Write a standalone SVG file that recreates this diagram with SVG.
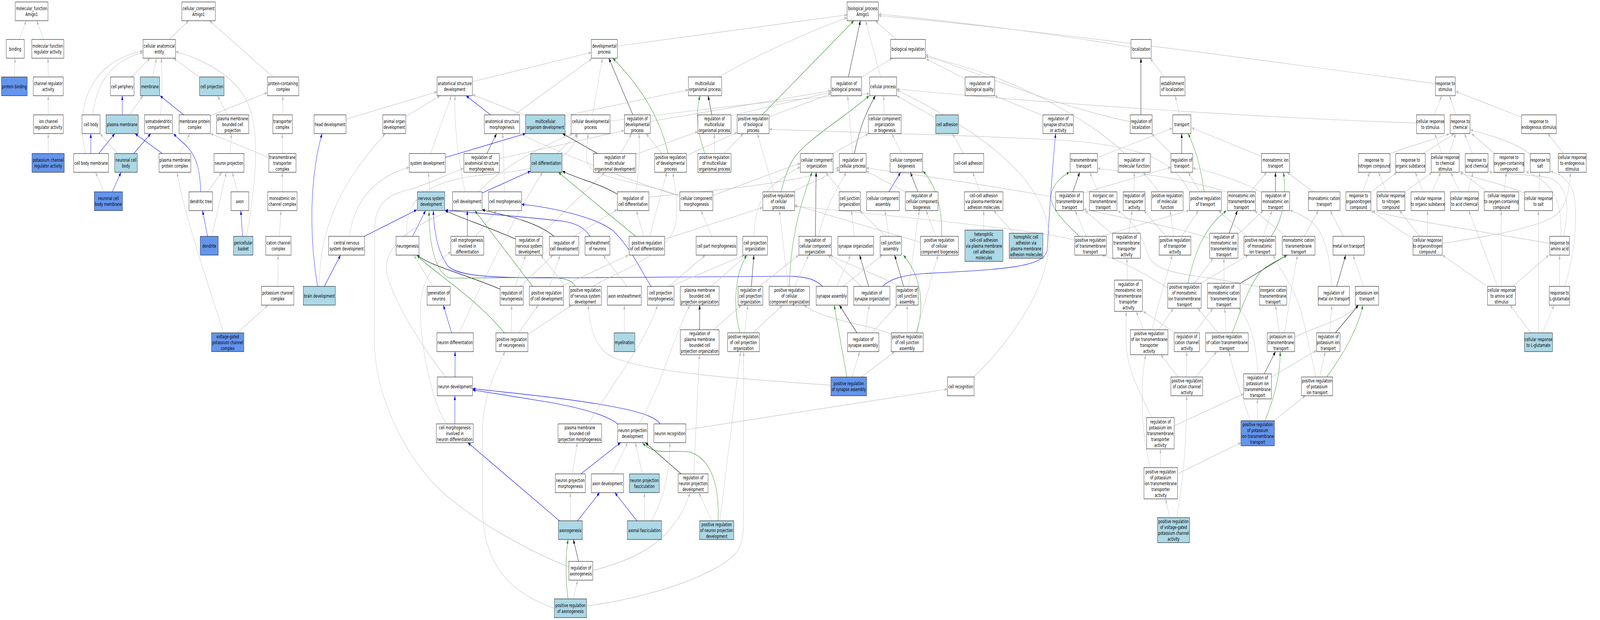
<svg xmlns="http://www.w3.org/2000/svg" width="6399" height="1587" viewBox="0 0 6399 1587" preserveAspectRatio="none" style="width:100vw;height:100vh">
<style>
.node rect{stroke:#000;stroke-width:1}
.w{fill:#fff}.lb{fill:#add8e6}.cb{fill:#6495ed}
.node text{font-family:"DejaVu Sans","Liberation Sans",sans-serif;font-size:13px;text-anchor:middle;fill:#000}
.e path{fill:none;stroke-width:1.2}
.g{stroke:#c0c0c0;marker-end:url(#ag)}
.b{stroke:#0000ff;marker-end:url(#ab)}
.k{stroke:#000;marker-end:url(#ak)}
.gr{stroke:#228b22;marker-end:url(#agr)}
</style>
<defs>
<marker id="ag" markerWidth="11" markerHeight="8" refX="11" refY="4" orient="auto" markerUnits="userSpaceOnUse"><path d="M0,0L11,4L0,8z" fill="#c0c0c0"/></marker>
<marker id="ab" markerWidth="11" markerHeight="8" refX="11" refY="4" orient="auto" markerUnits="userSpaceOnUse"><path d="M0,0L11,4L0,8z" fill="#0000ff"/></marker>
<marker id="ak" markerWidth="11" markerHeight="8" refX="11" refY="4" orient="auto" markerUnits="userSpaceOnUse"><path d="M0,0L11,4L0,8z" fill="#000"/></marker>
<marker id="agr" markerWidth="11" markerHeight="8" refX="11" refY="4" orient="auto" markerUnits="userSpaceOnUse"><path d="M0,0L11,4L0,8z" fill="#228b22"/></marker>
</defs>
<rect width="6399" height="1587" fill="#fff"/>
<g id="edges" class="e">
<path class="g" d="M77,101L105,53"/>
<path class="g" d="M174,101L147,53"/>
<path class="g" d="M58,197L60,149"/>
<path class="g" d="M193,197L192,149"/>
<path class="g" d="M193,294L193,245"/>
<path class="g" d="M193,393L193,342"/>
<path class="g" d="M677,101L754,53"/>
<path class="g" d="M1091,197L838,53"/>
<path class="g" d="M526,197L600,149"/>
<path class="g" d="M610,197L626,149"/>
<path class="g" d="M796,197L694,149"/>
<path class="g" d="M370,294C385,230 420,160 572,134"/>
<path class="g" d="M342,393C300,280 350,160 572,130"/>
<path class="g" d="M642,294C650,240 648,190 645,149"/>
<path class="g" d="M986,605C1020,480 1050,330 980,250C920,185 800,150 702,132"/>
<path class="b" d="M489,294L489,245"/>
<path class="g" d="M517,294L572,245"/>
<path class="b" d="M735,294L640,245"/>
<path class="g" d="M842,296L1069,237"/>
<path class="g" d="M910,294L870,245"/>
<path class="b" d="M363,393L363,342"/>
<path class="b" d="M395,393L459,342"/>
<path class="g" d="M470,393L400,342"/>
<path class="b" d="M535,393L603,342"/>
<path class="b" d="M649,393L540,342"/>
<path class="g" d="M719,393L759,342"/>
<path class="g" d="M1075,403L842,342"/>
<path class="g" d="M920,393L926,342"/>
<path class="b" d="M803,491C800,440 790,400 740,370C720,358 705,350 694,342"/>
<path class="g" d="M830,491L887,441"/>
<path class="g" d="M949,491L929,441"/>
<path class="g" d="M416,491L382,441"/>
<path class="b" d="M449,491L484,441"/>
<path class="b" d="M830,605L810,539"/>
<path class="g" d="M847,605L905,441"/>
<path class="b" d="M970,605L963,539"/>
<path class="g" d="M894,852C850,760 740,560 708,441"/>
<path class="g" d="M950,852L1072,781"/>
<path class="g" d="M1129,393L1129,342"/>
<path class="g" d="M1131,294L1131,245"/>
<path class="g" d="M1129,491L1129,441"/>
<path class="g" d="M1117,605L1124,539"/>
<path class="g" d="M1111,733L1112,653"/>
<path class="g" d="M1889,209L2365,134"/>
<path class="g" d="M1384,305L1748,235"/>
<path class="g" d="M1623,298L1760,245"/>
<path class="g" d="M1722,393L1805,245"/>
<path class="g" d="M1860,491C1835,420 1815,320 1820,245"/>
<path class="b" d="M1962,294L1864,245"/>
<path class="g" d="M2102,296L1889,242"/>
<path class="g" d="M2057,294L2367,150"/>
<path class="b" d="M1781,403L2102,342"/>
<path class="k" d="M1947,393L1986,342"/>
<path class="g" d="M1997,406L2497,334"/>
<path class="g" d="M1720,491L1713,441"/>
<path class="b" d="M1457,605L1667,537"/>
<path class="g" d="M1397,605C1420,500 1520,450 1637,428"/>
<path class="b" d="M1270,733C1235,600 1240,450 1288,342"/>
<path class="b" d="M1297,733L1362,653"/>
<path class="g" d="M1276,733C1280,580 1360,470 1541,342"/>
<path class="b" d="M1650,605L1702,539"/>
<path class="g" d="M1627,605C1620,520 1680,470 1900,450C2150,435 2280,420 2310,342"/>
<path class="b" d="M1928,494L2122,438"/>
<path class="g" d="M1916,491C2000,430 2150,380 2290,342"/>
<path class="g" d="M2228,393L2310,342"/>
<path class="g" d="M2018,491L2011,342"/>
<path class="b" d="M1869,605L1869,539"/>
<path class="g" d="M1902,605L1986,539"/>
<path class="k" d="M2062,612C1950,580 1850,560 1780,539"/>
<path class="g" d="M2156,605L2419,441"/>
<path class="k" d="M2000,740C1850,700 1720,680 1667,653"/>
<path class="g" d="M2060,733L2102,653"/>
<path class="g" d="M2081,733L2212,653"/>
<path class="gr" d="M2130,733L1899,539"/>
<path class="g" d="M1730,733L1655,653"/>
<path class="b" d="M1806,852L1773,781"/>
<path class="g" d="M1837,852C1900,760 2050,560 2170,441"/>
<path class="gr" d="M2017,852C1900,760 1720,690 1667,653"/>
<path class="g" d="M2046,852L2046,781"/>
<path class="g" d="M2074,852L2153,781"/>
<path class="g" d="M2111,856L2286,781"/>
<path class="b" d="M1820,965L1820,900"/>
<path class="g" d="M1783,965C1700,900 1560,760 1545,690C1535,620 1700,560 1812,539"/>
<path class="b" d="M1819,1085L1819,1013"/>
<path class="g" d="M1787,1085C1740,1050 1680,900 1681,790C1681,720 1740,670 1803,645"/>
<path class="b" d="M2237,1333L1871,1133"/>
<path class="b" d="M2470,1085C2430,1065 2350,1048 2200,1030L1890,998"/>
<path class="b" d="M2640,1085C2620,1068 2580,1060 2520,1050C2350,1025 2100,1009 1890,995"/>
<path class="g" d="M2275,1451C2150,1420 1900,1340 1750,1248C1600,1150 1497,1000 1497,870L1499,580C1500,520 1560,495 1640,485C1720,470 1790,445 1855,431"/>
<path class="g" d="M2217,1557C2050,1520 1930,1450 1930,1300L1930,1100C1930,1020 1980,950 2020,900"/>
<path class="b" d="M2360,605C2340,585 2310,572 2250,566C2100,555 1900,545 1781,538"/>
<path class="b" d="M2604,733C2560,690 2530,640 2451,590C2380,555 2200,530 2086,523"/>
<path class="b" d="M3290,733C3260,715 3230,708 3150,707L2300,711C2000,712 1830,710 1790,680C1745,640 1735,580 1733,539"/>
<path class="gr" d="M2301,733C2290,720 2270,712 2200,710L1800,712C1740,700 1715,620 1716,541"/>
<path class="g" d="M2261,733L2163,653"/>
<path class="g" d="M2371,733C2450,700 2700,650 2705,560C2710,500 2695,470 2692,441"/>
<path class="g" d="M2469,118L3388,38"/>
<path class="g" d="M2875,197C3000,150 3200,90 3388,45"/>
<path class="g" d="M2260,296L2753,230"/>
<path class="g" d="M2370,294L2409,149"/>
<path class="k" d="M2531,294L2435,149"/>
<path class="g" d="M2601,311L3324,232"/>
<path class="gr" d="M2672,393C2640,300 2560,220 2451,149"/>
<path class="g" d="M2647,393L2584,342"/>
<path class="g" d="M2746,398L2948,339"/>
<path class="k" d="M2390,393L2250,342"/>
<path class="g" d="M2482,393L2526,342"/>
<path class="g" d="M2543,395L2791,337"/>
<path class="k" d="M2847,294L2832,245"/>
<path class="g" d="M2924,296L3324,236"/>
<path class="gr" d="M2819,393C2790,340 2780,290 2800,245"/>
<path class="g" d="M2857,393L2857,342"/>
<path class="g" d="M2896,393L2973,342"/>
<path class="gr" d="M3048,294L3415,53"/>
<path class="g" d="M3076,299L3324,240"/>
<path class="k" d="M2469,497C2400,470 2320,460 2249,438"/>
<path class="g" d="M2542,491C2560,430 2558,380 2556,342"/>
<path class="g" d="M3096,491L3029,342"/>
<path class="g" d="M3170,491L3357,434"/>
<path class="gr" d="M3124,491C3135,460 3150,430 3175,405C3230,355 3380,300 3476,245"/>
<path class="g" d="M2719,502C2600,470 2380,460 2350,420C2340,390 2350,360 2352,342"/>
<path class="g" d="M2719,502C2500,460 2200,380 2078,342"/>
<path class="g" d="M2851,500C2950,478 3100,440 3201,418"/>
<path class="k" d="M2216,605C2150,570 2050,555 1928,537"/>
<path class="g" d="M2296,605L2469,536"/>
<path class="g" d="M2847,605L2804,539"/>
<path class="g" d="M3015,605C3020,540 3040,500 3100,470C3140,450 3170,435 3201,428"/>
<path class="k" d="M3005,733L3015,653"/>
<path class="g" d="M3037,733L3195,653"/>
<path class="g" d="M3178,733L3234,653"/>
<path class="gr" d="M3157,733C3160,620 3200,520 3248,441"/>
<path class="g" d="M3152,733L3117,539"/>
<path class="g" d="M2675,733L2821,653"/>
<path class="g" d="M2682,733L2977,653"/>
<path class="g" d="M2844,733L2987,653"/>
<path class="gr" d="M2542,605L2233,441"/>
<path class="g" d="M2575,605L2545,539"/>
<path class="g" d="M2598,605L2667,441"/>
<path class="g" d="M2659,612L3051,531"/>
<path class="g" d="M2198,733L2240,653"/>
<path class="g" d="M2246,733L2514,653"/>
<path class="g" d="M2508,733L2412,653"/>
<path class="g" d="M2595,505C2800,490 3200,470 3357,428"/>
<path class="g" d="M2497,852L2497,781"/>
<path class="k" d="M2798,844L2798,781"/>
<path class="g" d="M2854,844L2965,781"/>
<path class="g" d="M2978,852L2991,781"/>
<path class="gr" d="M2959,852C2930,780 2940,700 2987,653"/>
<path class="g" d="M3011,852L3130,781"/>
<path class="g" d="M2353,1085C2450,980 2580,880 2630,781"/>
<path class="g" d="M2556,1085C2650,980 2700,850 2760,781"/>
<path class="g" d="M2289,1213L2309,1133"/>
<path class="b" d="M2323,1213L2482,1133"/>
<path class="g" d="M2449,1213L2510,1133"/>
<path class="g" d="M2569,1213L2541,1133"/>
<path class="k" d="M2724,1213L2581,1133"/>
<path class="g" d="M2775,1213L2797,908"/>
<path class="g" d="M2281,1333L2281,1261"/>
<path class="b" d="M2310,1333L2398,1261"/>
<path class="b" d="M2547,1333L2459,1261"/>
<path class="g" d="M2577,1333L2577,1261"/>
<path class="g" d="M2605,1333C2660,1270 2680,1200 2679,1133"/>
<path class="g" d="M2847,1333L2795,1261"/>
<path class="gr" d="M2872,1333C2875,1260 2860,1180 2760,1157C2680,1150 2620,1168 2570,1134"/>
<path class="g" d="M2879,1333L2962,900"/>
<path class="k" d="M2314,1437L2293,1381"/>
<path class="g" d="M2371,1460C2560,1430 2700,1380 2760,1261"/>
<path class="gr" d="M2272,1533C2260,1480 2262,1420 2272,1381"/>
<path class="g" d="M2293,1533L2310,1485"/>
<path class="g" d="M2346,1551C2600,1530 2880,1470 2950,1410C2975,1385 2974,1350 2974,1300L2974,900"/>
<path class="g" d="M2743,1100L3789,996"/>
<path class="g" d="M3323,986C3100,975 2600,960 2444,912C2380,890 2360,840 2352,781"/>
<path class="g" d="M3346,733L3402,653"/>
<path class="g" d="M3371,733L3529,653"/>
<path class="k" d="M3474,733L3438,653"/>
<path class="g" d="M3445,733L3311,653"/>
<path class="b" d="M3529,733C3560,715 3600,705 3700,700C4000,690 4180,685 4188,640C4195,560 4210,420 4222,342"/>
<path class="k" d="M3614,733L3578,653"/>
<path class="g" d="M3634,733L3676,539"/>
<path class="g" d="M3599,733C3500,700 3400,680 3320,653"/>
<path class="gr" d="M3666,852C3690,800 3700,720 3613,653"/>
<path class="g" d="M3628,852L3628,781"/>
<path class="g" d="M3662,852C3690,800 3720,720 3752,653"/>
<path class="g" d="M3564,856C3500,835 3350,825 3250,795L3215,781"/>
<path class="k" d="M3427,852L3357,781"/>
<path class="g" d="M3459,852L3477,781"/>
<path class="g" d="M3487,852L3588,781"/>
<path class="gr" d="M3387,965L3336,781"/>
<path class="g" d="M3408,965L3438,900"/>
<path class="g" d="M3445,965L3578,900"/>
<path class="g" d="M3894,965C4050,870 4210,720 4195,600C4180,480 4000,360 3586,230"/>
<path class="g" d="M3585,101L3501,53"/>
<path class="k" d="M3393,197L3441,53"/>
<path class="g" d="M3522,197L3462,53"/>
<path class="g" d="M3447,197L3569,149"/>
<path class="g" d="M3858,201L3704,151"/>
<path class="g" d="M4523,121C4300,95 3900,60 3513,36"/>
<path class="g" d="M5741,214C5000,150 4200,80 3513,40"/>
<path class="g" d="M3536,294L3534,245"/>
<path class="g" d="M3739,301L3586,245"/>
<path class="g" d="M3410,393L3390,245"/>
<path class="k" d="M3417,393C3440,320 3470,280 3501,245"/>
<path class="g" d="M3331,393L3473,342"/>
<path class="g" d="M3605,393L3567,342"/>
<path class="g" d="M3854,393L3809,342"/>
<path class="g" d="M3367,491L3301,441"/>
<path class="b" d="M3555,491L3602,441"/>
<path class="k" d="M3671,491L3641,441"/>
<path class="g" d="M3621,491L3464,438"/>
<path class="g" d="M3920,491L3890,441"/>
<path class="g" d="M3934,589L3934,539"/>
<path class="g" d="M4055,597L3974,539"/>
<path class="k" d="M3261,605L3264,441"/>
<path class="g" d="M3273,605C3300,530 3350,480 3385,441"/>
<path class="g" d="M3417,605L3405,539"/>
<path class="g" d="M3543,605L3438,539"/>
<path class="g" d="M3555,605L3539,539"/>
<path class="g" d="M3743,605L3704,539"/>
<path class="gr" d="M3766,605C3770,530 3740,470 3691,438"/>
<path class="g" d="M3681,620L3178,525"/>
<path class="g" d="M2440,310C2800,280 3200,250 3478,240"/>
<path class="g" d="M4171,296L3978,245"/>
<path class="g" d="M4520,311C4300,285 3950,200 3701,140"/>
<path class="g" d="M4498,393C4400,330 4100,200 3701,145"/>
<path class="g" d="M4757,491C4700,420 4600,370 4200,357C3800,345 3300,335 3076,331"/>
<path class="g" d="M4298,615C4200,595 3700,560 3178,528"/>
<path class="g" d="M4222,505C4000,480 3700,450 3464,430"/>
<path class="g" d="M5665,315C5000,300 4200,265 3586,228"/>
<path class="k" d="M4563,294L4563,149"/>
<path class="g" d="M4656,197L4600,149"/>
<path class="g" d="M4718,294L4700,245"/>
<path class="g" d="M4389,403L4689,328"/>
<path class="k" d="M4726,393L4726,342"/>
<path class="g" d="M4684,393L4605,342"/>
<path class="g" d="M5045,400L4765,327"/>
<path class="k" d="M4291,491L4318,441"/>
<path class="g" d="M4333,494L4683,428"/>
<path class="g" d="M4391,491L4358,441"/>
<path class="g" d="M4536,491L4536,441"/>
<path class="g" d="M4636,491L4572,441"/>
<path class="g" d="M4798,491L4752,441"/>
<path class="gr" d="M4816,491C4800,420 4780,380 4752,342"/>
<path class="g" d="M5000,491L5066,441"/>
<path class="g" d="M4909,492C4700,450 4500,440 4389,431"/>
<path class="g" d="M5045,492C4950,460 4850,440 4770,430"/>
<path class="k" d="M5101,491L5101,441"/>
<path class="g" d="M5252,491L5147,441"/>
<path class="gr" d="M4316,605C4280,580 4200,540 4203,500C4210,470 4250,450 4277,441"/>
<path class="g" d="M4344,605L4300,539"/>
<path class="g" d="M4403,605L4757,538"/>
<path class="g" d="M4450,600L4340,539"/>
<path class="g" d="M4514,597L4528,539"/>
<path class="g" d="M4663,605L4575,539"/>
<path class="g" d="M4695,605L4679,539"/>
<path class="g" d="M4726,605L4793,539"/>
<path class="k" d="M4916,597L4949,539"/>
<path class="g" d="M4838,610C4700,580 4500,560 4333,535"/>
<path class="g" d="M4951,600L5052,539"/>
<path class="g" d="M5052,605L5087,539"/>
<path class="gr" d="M5084,605C5120,570 5150,520 5133,441"/>
<path class="g" d="M4986,605L4873,539"/>
<path class="g" d="M5143,605L5017,539"/>
<path class="g" d="M5216,605L5273,539"/>
<path class="g" d="M5373,605L5320,539"/>
<path class="g" d="M4509,717L4507,661"/>
<path class="gr" d="M4751,725C4780,640 4820,580 4905,539"/>
<path class="g" d="M4777,725L4852,661"/>
<path class="g" d="M4802,725L4993,653"/>
<path class="g" d="M4670,737C4600,710 4500,670 4407,653"/>
<path class="g" d="M4895,725L4895,661"/>
<path class="k" d="M4961,725L5147,653"/>
<path class="g" d="M5037,735C4800,700 4620,710 4590,650C4570,600 4520,560 4470,539"/>
<path class="k" d="M5346,733L5382,653"/>
<path class="g" d="M5453,733L5411,653"/>
<path class="g" d="M5327,733C5320,660 5300,600 5250,570C5220,555 5190,545 5158,538"/>
<path class="g" d="M4574,844L4544,797"/>
<path class="g" d="M4607,844C4630,780 4670,700 4688,653"/>
<path class="g" d="M4635,844L4693,789"/>
<path class="g" d="M4698,852L4572,797"/>
<path class="g" d="M4777,852L4851,789"/>
<path class="g" d="M4872,852L4790,789"/>
<path class="g" d="M4904,852L4898,789"/>
<path class="gr" d="M4928,852C4960,800 5000,720 5050,690C5090,670 5120,665 5147,653"/>
<path class="g" d="M5117,852L5101,781"/>
<path class="g" d="M5137,852C5150,800 5170,720 5189,653"/>
<path class="g" d="M5178,863C5280,830 5380,820 5430,781"/>
<path class="g" d="M5317,852L5327,781"/>
<path class="k" d="M5341,852L5433,781"/>
<path class="k" d="M5056,957L5101,900"/>
<path class="g" d="M5085,965L5265,897"/>
<path class="g" d="M5030,957C5025,880 5000,820 4953,789"/>
<path class="g" d="M4746,965L4746,900"/>
<path class="g" d="M4712,965L4642,908"/>
<path class="g" d="M4782,965L4866,900"/>
<path class="g" d="M5278,965L5300,900"/>
<path class="gr" d="M5306,965C5380,900 5430,840 5451,781"/>
<path class="g" d="M5263,965C5240,900 5215,820 5200,790C5170,730 5120,690 5091,653"/>
<path class="g" d="M4605,1069C4560,1000 4505,950 4503,870L4504,797"/>
<path class="g" d="M4696,1090L4974,1008"/>
<path class="gr" d="M5059,1077C5100,1010 5120,960 5120,900"/>
<path class="g" d="M5029,1077L5029,1021"/>
<path class="g" d="M5094,1077L5221,1013"/>
<path class="g" d="M5000,1077C4960,1000 4930,950 4916,900"/>
<path class="g" d="M4641,1197L4641,1149"/>
<path class="g" d="M4709,1213L4963,1133"/>
<path class="g" d="M4601,1197C4570,1130 4555,1000 4582,908"/>
<path class="g" d="M4679,1325L4661,1277"/>
<path class="g" d="M4706,1325C4740,1200 4745,1100 4746,1013"/>
<path class="g" d="M5736,294L5766,245"/>
<path class="g" d="M5824,294L5797,245"/>
<path class="g" d="M6085,300L5822,234"/>
<path class="g" d="M5559,394C5650,370 5750,355 5797,342"/>
<path class="g" d="M5691,393L5818,342"/>
<path class="g" d="M5766,393L5738,342"/>
<path class="g" d="M5796,393L5822,342"/>
<path class="g" d="M5888,393L5857,342"/>
<path class="g" d="M5977,393L5885,342"/>
<path class="g" d="M6120,395C6050,360 5950,345 5880,332"/>
<path class="g" d="M6253,393L6190,342"/>
<path class="g" d="M5450,491L5478,441"/>
<path class="g" d="M5485,491L5587,441"/>
<path class="g" d="M5545,491L5513,441"/>
<path class="g" d="M5620,491L5727,441"/>
<path class="g" d="M5692,491L5660,441"/>
<path class="g" d="M5727,491L5762,441"/>
<path class="g" d="M5871,491L5892,441"/>
<path class="g" d="M5838,491L5802,441"/>
<path class="g" d="M6015,491L6025,441"/>
<path class="g" d="M5948,491L5839,438"/>
<path class="g" d="M6155,491L6158,441"/>
<path class="g" d="M6097,494C6000,470 5900,455 5839,443"/>
<path class="g" d="M5651,612L5483,539"/>
<path class="g" d="M5678,605L5597,539"/>
<path class="g" d="M5709,605L5709,539"/>
<path class="g" d="M5768,623C5900,610 6100,590 6200,560C6260,540 6275,500 6281,441"/>
<path class="g" d="M6198,623C5900,590 5600,560 5488,540"/>
<path class="g" d="M6243,605C6245,530 6230,470 6102,439"/>
<path class="g" d="M6253,605C6275,540 6280,480 6200,455C6100,445 6000,445 5955,440"/>
<path class="g" d="M5941,730L5769,653"/>
<path class="g" d="M5990,733L5874,539"/>
<path class="g" d="M6004,733L6004,539"/>
<path class="g" d="M6050,733L6194,653"/>
<path class="g" d="M6237,733L6237,653"/>
<path class="g" d="M6258,733C6300,650 6315,530 6288,485C6260,450 6230,445 6200,438"/>
<path class="g" d="M6123,852L6039,781"/>
<path class="g" d="M6153,852L6153,539"/>
<path class="g" d="M6169,852L6215,781"/>
</g>
<g id="mf" class="node"><rect class="w" x="61" y="5" width="131" height="48"/><text x="126.5" y="26.5">molecular_function<tspan x="126.5" dy="15">Amigo1</tspan></text></g>
<g id="cc" class="node"><rect class="w" x="727" y="5" width="134" height="48"/><text x="794" y="26.5">cellular_component<tspan x="794" dy="15">Amigo1</tspan></text></g>
<g id="bp" class="node"><rect class="w" x="3388" y="5" width="125" height="48"/><text x="3450.5" y="26.5">biological_process<tspan x="3450.5" dy="15">Amigo1</tspan></text></g>
<g id="binding" class="node"><rect class="w" x="25" y="101" width="72" height="48"/><text x="61" y="130">binding</text></g>
<g id="mfreg" class="node"><rect class="w" x="127" y="101" width="128" height="48"/><text x="191" y="122.5">molecular function<tspan x="191" dy="15">regulator activity</tspan></text></g>
<g id="cae" class="node"><rect class="w" x="572" y="101" width="130" height="48"/><text x="637" y="122.5">cellular anatomical<tspan x="637" dy="15">entity</tspan></text></g>
<g id="devproc" class="node"><rect class="w" x="2365" y="101" width="104" height="48"/><text x="2417" y="122.5">developmental<tspan x="2417" dy="15">process</tspan></text></g>
<g id="bioreg" class="node"><rect class="w" x="3562" y="101" width="139" height="48"/><text x="3631.5" y="130">biological regulation</text></g>
<g id="loc" class="node"><rect class="w" x="4523" y="101" width="81" height="48"/><text x="4563.5" y="130">localization</text></g>
<g id="protbind" class="node"><rect class="cb" x="6" y="197" width="103" height="48"/><text x="57.5" y="226">protein binding</text></g>
<g id="chanreg" class="node"><rect class="w" x="133" y="197" width="120" height="48"/><text x="193" y="218.5">channel regulator<tspan x="193" dy="15">activity</tspan></text></g>
<g id="cellper" class="node"><rect class="w" x="442" y="197" width="94" height="48"/><text x="489" y="226">cell periphery</text></g>
<g id="membrane" class="node"><rect class="lb" x="561" y="197" width="77" height="48"/><text x="599.5" y="226">membrane</text></g>
<g id="cellproj" class="node"><rect class="lb" x="798" y="197" width="98" height="48"/><text x="847" y="226">cell projection</text></g>
<g id="protcomplex" class="node"><rect class="w" x="1069" y="197" width="126" height="48"/><text x="1132" y="218.5">protein-containing<tspan x="1132" dy="15">complex</tspan></text></g>
<g id="asd" class="node"><rect class="w" x="1748" y="197" width="141" height="48"/><text x="1818.5" y="218.5">anatomical structure<tspan x="1818.5" dy="15">development</tspan></text></g>
<g id="mop" class="node"><rect class="w" x="2753" y="197" width="133" height="48"/><text x="2819.5" y="218.5">multicellular<tspan x="2819.5" dy="15">organismal process</tspan></text></g>
<g id="regbp" class="node"><rect class="w" x="3324" y="197" width="122" height="48"/><text x="3385" y="218.5">regulation of<tspan x="3385" dy="15">biological process</tspan></text></g>
<g id="cellproc" class="node"><rect class="w" x="3478" y="197" width="108" height="48"/><text x="3532" y="226">cellular process</text></g>
<g id="regbq" class="node"><rect class="w" x="3860" y="197" width="118" height="48"/><text x="3919" y="218.5">regulation of<tspan x="3919" dy="15">biological quality</tspan></text></g>
<g id="estloc" class="node"><rect class="w" x="4640" y="197" width="99" height="48"/><text x="4689.5" y="218.5">establishment<tspan x="4689.5" dy="15">of localization</tspan></text></g>
<g id="respstim" class="node"><rect class="w" x="5741" y="197" width="79" height="48"/><text x="5780.5" y="218.5">response to<tspan x="5780.5" dy="15">stimulus</tspan></text></g>
<g id="ionchanreg" class="node"><rect class="w" x="134" y="294" width="119" height="48"/><text x="193.5" y="315.5">ion channel<tspan x="193.5" dy="15">regulator activity</tspan></text></g>
<g id="cellbody" class="node"><rect class="w" x="328" y="294" width="72" height="48"/><text x="364" y="323">cell body</text></g>
<g id="pm" class="node"><rect class="lb" x="424" y="294" width="129" height="48"/><text x="488.5" y="323">plasma membrane</text></g>
<g id="somato" class="node"><rect class="w" x="578" y="294" width="112" height="48"/><text x="634" y="315.5">somatodendritic<tspan x="634" dy="15">compartment</tspan></text></g>
<g id="mpc" class="node"><rect class="w" x="716" y="294" width="125" height="48"/><text x="778.5" y="315.5">membrane protein<tspan x="778.5" dy="15">complex</tspan></text></g>
<g id="pmbcp" class="node"><rect class="w" x="866" y="294" width="129" height="48"/><text x="930.5" y="308">plasma membrane<tspan x="930.5" dy="15">bounded cell</tspan><tspan x="930.5" dy="15">projection</tspan></text></g>
<g id="transpcomplex" class="node"><rect class="w" x="1091" y="294" width="78" height="48"/><text x="1130" y="315.5">transporter<tspan x="1130" dy="15">complex</tspan></text></g>
<g id="headdev" class="node"><rect class="w" x="1256" y="294" width="128" height="48"/><text x="1320" y="323">head development</text></g>
<g id="aod" class="node"><rect class="w" x="1531" y="294" width="92" height="48"/><text x="1577" y="315.5">animal organ<tspan x="1577" dy="15">development</tspan></text></g>
<g id="asm" class="node"><rect class="w" x="1937" y="294" width="141" height="48"/><text x="2007.5" y="315.5">anatomical structure<tspan x="2007.5" dy="15">morphogenesis</tspan></text></g>
<g id="mod" class="node"><rect class="lb" x="2102" y="294" width="158" height="48"/><text x="2181" y="315.5">multicellular<tspan x="2181" dy="15">organism development</tspan></text></g>
<g id="cdp" class="node"><rect class="w" x="2284" y="294" width="156" height="48"/><text x="2362" y="315.5">cellular developmental<tspan x="2362" dy="15">process</tspan></text></g>
<g id="regdp" class="node"><rect class="w" x="2497" y="294" width="104" height="48"/><text x="2549" y="308">regulation of<tspan x="2549" dy="15">developmental</tspan><tspan x="2549" dy="15">process</tspan></text></g>
<g id="regmop" class="node"><rect class="w" x="2791" y="294" width="133" height="48"/><text x="2857.5" y="308">regulation of<tspan x="2857.5" dy="15">multicellular</tspan><tspan x="2857.5" dy="15">organismal process</tspan></text></g>
<g id="posregbp" class="node"><rect class="w" x="2948" y="294" width="128" height="48"/><text x="3012" y="308">positive regulation<tspan x="3012" dy="15">of biological</tspan><tspan x="3012" dy="15">process</tspan></text></g>
<g id="ccob" class="node"><rect class="w" x="3473" y="294" width="131" height="48"/><text x="3538.5" y="308">cellular component<tspan x="3538.5" dy="15">organization</tspan><tspan x="3538.5" dy="15">or biogenesis</tspan></text></g>
<g id="celladh" class="node"><rect class="lb" x="3742" y="294" width="91" height="48"/><text x="3787.5" y="323">cell adhesion</text></g>
<g id="regsyn" class="node"><rect class="w" x="4171" y="294" width="122" height="48"/><text x="4232" y="308">regulation of<tspan x="4232" dy="15">synapse structure</tspan><tspan x="4232" dy="15">or activity</tspan></text></g>
<g id="regloc" class="node"><rect class="w" x="4520" y="294" width="88" height="48"/><text x="4564" y="315.5">regulation of<tspan x="4564" dy="15">localization</tspan></text></g>
<g id="transport" class="node"><rect class="w" x="4690" y="294" width="73" height="48"/><text x="4726.5" y="323">transport</text></g>
<g id="crstim" class="node"><rect class="w" x="5665" y="294" width="111" height="48"/><text x="5720.5" y="315.5">cellular response<tspan x="5720.5" dy="15">to stimulus</tspan></text></g>
<g id="respchem" class="node"><rect class="w" x="5800" y="294" width="79" height="48"/><text x="5839.5" y="315.5">response to<tspan x="5839.5" dy="15">chemical</tspan></text></g>
<g id="respendo" class="node"><rect class="w" x="6085" y="294" width="139" height="48"/><text x="6154.5" y="315.5">response to<tspan x="6154.5" dy="15">endogenous stimulus</tspan></text></g>
<g id="kchanreg" class="node"><rect class="cb" x="128" y="393" width="129" height="48"/><text x="192.5" y="414.5">potassium channel<tspan x="192.5" dy="15">regulator activity</tspan></text></g>
<g id="cbm" class="node"><rect class="w" x="295" y="393" width="139" height="48"/><text x="364.5" y="422">cell body membrane</text></g>
<g id="ncb" class="node"><rect class="lb" x="459" y="393" width="90" height="48"/><text x="504" y="414.5">neuronal cell<tspan x="504" dy="15">body</tspan></text></g>
<g id="pmpc" class="node"><rect class="w" x="636" y="393" width="127" height="48"/><text x="699.5" y="414.5">plasma membrane<tspan x="699.5" dy="15">protein complex</tspan></text></g>
<g id="neuproj" class="node"><rect class="w" x="856" y="393" width="120" height="48"/><text x="916" y="422">neuron projection</text></g>
<g id="tmtc" class="node"><rect class="w" x="1075" y="393" width="109" height="48"/><text x="1129.5" y="407">transmembrane<tspan x="1129.5" dy="15">transporter</tspan><tspan x="1129.5" dy="15">complex</tspan></text></g>
<g id="sysdev" class="node"><rect class="w" x="1637" y="393" width="144" height="48"/><text x="1709" y="422">system development</text></g>
<g id="regasm" class="node"><rect class="w" x="1855" y="393" width="142" height="48"/><text x="1926" y="407">regulation of<tspan x="1926" dy="15">anatomical structure</tspan><tspan x="1926" dy="15">morphogenesis</tspan></text></g>
<g id="celldiff" class="node"><rect class="lb" x="2122" y="393" width="126" height="48"/><text x="2185" y="422">cell differentiation</text></g>
<g id="regmod" class="node"><rect class="w" x="2374" y="393" width="169" height="48"/><text x="2458.5" y="407">regulation of<tspan x="2458.5" dy="15">multicellular</tspan><tspan x="2458.5" dy="15">organismal development</tspan></text></g>
<g id="posregdp" class="node"><rect class="w" x="2618" y="393" width="128" height="48"/><text x="2682" y="407">positive regulation<tspan x="2682" dy="15">of developmental</tspan><tspan x="2682" dy="15">process</tspan></text></g>
<g id="posregmop" class="node"><rect class="w" x="2791" y="393" width="133" height="48"/><text x="2857.5" y="407">positive regulation<tspan x="2857.5" dy="15">of multicellular</tspan><tspan x="2857.5" dy="15">organismal process</tspan></text></g>
<g id="cco" class="node"><rect class="w" x="3201" y="393" width="131" height="48"/><text x="3266.5" y="414.5">cellular component<tspan x="3266.5" dy="15">organization</tspan></text></g>
<g id="regcp" class="node"><rect class="w" x="3357" y="393" width="107" height="48"/><text x="3410.5" y="414.5">regulation of<tspan x="3410.5" dy="15">cellular process</tspan></text></g>
<g id="ccb" class="node"><rect class="w" x="3560" y="393" width="130" height="48"/><text x="3625" y="414.5">cellular component<tspan x="3625" dy="15">biogenesis</tspan></text></g>
<g id="ccadh" class="node"><rect class="w" x="3815" y="393" width="119" height="48"/><text x="3874.5" y="422">cell-cell adhesion</text></g>
<g id="tmt" class="node"><rect class="w" x="4280" y="393" width="109" height="48"/><text x="4334.5" y="414.5">transmembrane<tspan x="4334.5" dy="15">transport</tspan></text></g>
<g id="regmf" class="node"><rect class="w" x="4472" y="393" width="128" height="48"/><text x="4536" y="414.5">regulation of<tspan x="4536" dy="15">molecular function</tspan></text></g>
<g id="regtrans" class="node"><rect class="w" x="4683" y="393" width="87" height="48"/><text x="4726.5" y="414.5">regulation of<tspan x="4726.5" dy="15">transport</tspan></text></g>
<g id="miontrans" class="node"><rect class="w" x="5045" y="393" width="113" height="48"/><text x="5101.5" y="414.5">monoatomic ion<tspan x="5101.5" dy="15">transport</tspan></text></g>
<g id="respnitro" class="node"><rect class="w" x="5433" y="393" width="126" height="48"/><text x="5496" y="414.5">response to<tspan x="5496" dy="15">nitrogen compound</tspan></text></g>
<g id="resporg" class="node"><rect class="w" x="5582" y="393" width="118" height="48"/><text x="5641" y="414.5">response to<tspan x="5641" dy="15">organic substance</tspan></text></g>
<g id="crchem" class="node"><rect class="w" x="5724" y="393" width="112" height="48"/><text x="5780" y="407">cellular response<tspan x="5780" dy="15">to chemical</tspan><tspan x="5780" dy="15">stimulus</tspan></text></g>
<g id="respacid" class="node"><rect class="w" x="5860" y="393" width="91" height="48"/><text x="5905.5" y="414.5">response to<tspan x="5905.5" dy="15">acid chemical</tspan></text></g>
<g id="respoxy" class="node"><rect class="w" x="5975" y="393" width="120" height="48"/><text x="6035" y="407">response to<tspan x="6035" dy="15">oxygen-containing</tspan><tspan x="6035" dy="15">compound</tspan></text></g>
<g id="respsalt" class="node"><rect class="w" x="6120" y="393" width="79" height="48"/><text x="6159.5" y="414.5">response to<tspan x="6159.5" dy="15">salt</tspan></text></g>
<g id="crendo" class="node"><rect class="w" x="6232" y="393" width="112" height="48"/><text x="6288" y="407">cellular response<tspan x="6288" dy="15">to endogenous</tspan><tspan x="6288" dy="15">stimulus</tspan></text></g>
<g id="ncbm" class="node"><rect class="cb" x="377" y="491" width="113" height="48"/><text x="433.5" y="512.5">neuronal cell<tspan x="433.5" dy="15">body membrane</tspan></text></g>
<g id="dtree" class="node"><rect class="w" x="756" y="491" width="94" height="48"/><text x="803" y="520">dendritic tree</text></g>
<g id="axon" class="node"><rect class="w" x="924" y="491" width="71" height="48"/><text x="959.5" y="520">axon</text></g>
<g id="mioncc" class="node"><rect class="w" x="1071" y="491" width="117" height="48"/><text x="1129.5" y="512.5">monoatomic ion<tspan x="1129.5" dy="15">channel complex</tspan></text></g>
<g id="nsdev" class="node"><rect class="lb" x="1669" y="491" width="110" height="48"/><text x="1724" y="512.5">nervous system<tspan x="1724" dy="15">development</tspan></text></g>
<g id="celldev" class="node"><rect class="w" x="1810" y="491" width="118" height="48"/><text x="1869" y="520">cell development</text></g>
<g id="cellmorph" class="node"><rect class="w" x="1954" y="491" width="132" height="48"/><text x="2020" y="520">cell morphogenesis</text></g>
<g id="regcd" class="node"><rect class="w" x="2469" y="491" width="126" height="48"/><text x="2532" y="512.5">regulation of<tspan x="2532" dy="15">cell differentiation</tspan></text></g>
<g id="ccmorph" class="node"><rect class="w" x="2719" y="491" width="132" height="48"/><text x="2785" y="512.5">cellular component<tspan x="2785" dy="15">morphogenesis</tspan></text></g>
<g id="posregcp" class="node"><rect class="w" x="3051" y="491" width="127" height="48"/><text x="3114.5" y="505">positive regulation<tspan x="3114.5" dy="15">of cellular</tspan><tspan x="3114.5" dy="15">process</tspan></text></g>
<g id="cjo" class="node"><rect class="w" x="3356" y="491" width="85" height="48"/><text x="3398.5" y="512.5">cell junction<tspan x="3398.5" dy="15">organization</tspan></text></g>
<g id="cca" class="node"><rect class="w" x="3466" y="491" width="131" height="48"/><text x="3531.5" y="512.5">cellular component<tspan x="3531.5" dy="15">assembly</tspan></text></g>
<g id="regccb" class="node"><rect class="w" x="3621" y="491" width="131" height="48"/><text x="3686.5" y="505">regulation of<tspan x="3686.5" dy="15">cellular component</tspan><tspan x="3686.5" dy="15">biogenesis</tspan></text></g>
<g id="ccadhpm" class="node"><rect class="w" x="3857" y="491" width="154" height="48"/><text x="3934" y="505">cell-cell adhesion<tspan x="3934" dy="15">via plasma-membrane</tspan><tspan x="3934" dy="15">adhesion molecules</tspan></text></g>
<g id="regtmt" class="node"><rect class="w" x="4222" y="491" width="111" height="48"/><text x="4277.5" y="505">regulation of<tspan x="4277.5" dy="15">transmembrane</tspan><tspan x="4277.5" dy="15">transport</tspan></text></g>
<g id="iontmt" class="node"><rect class="w" x="4357" y="491" width="110" height="48"/><text x="4412" y="505">inorganic ion<tspan x="4412" dy="15">transmembrane</tspan><tspan x="4412" dy="15">transport</tspan></text></g>
<g id="regtpa" class="node"><rect class="w" x="4492" y="491" width="88" height="48"/><text x="4536" y="505">regulation of<tspan x="4536" dy="15">transporter</tspan><tspan x="4536" dy="15">activity</tspan></text></g>
<g id="posregmf" class="node"><rect class="w" x="4605" y="491" width="127" height="48"/><text x="4668.5" y="505">positive regulation<tspan x="4668.5" dy="15">of molecular</tspan><tspan x="4668.5" dy="15">function</tspan></text></g>
<g id="posregtrans" class="node"><rect class="w" x="4757" y="491" width="128" height="48"/><text x="4821" y="512.5">positive regulation<tspan x="4821" dy="15">of transport</tspan></text></g>
<g id="miontmt" class="node"><rect class="w" x="4909" y="491" width="112" height="48"/><text x="4965" y="505">monoatomic ion<tspan x="4965" dy="15">transmembrane</tspan><tspan x="4965" dy="15">transport</tspan></text></g>
<g id="regmiont" class="node"><rect class="w" x="5045" y="491" width="113" height="48"/><text x="5101.5" y="505">regulation of<tspan x="5101.5" dy="15">monoatomic ion</tspan><tspan x="5101.5" dy="15">transport</tspan></text></g>
<g id="mcationt" class="node"><rect class="w" x="5233" y="491" width="126" height="48"/><text x="5296" y="512.5">monoatomic cation<tspan x="5296" dy="15">transport</tspan></text></g>
<g id="resporgn" class="node"><rect class="w" x="5383" y="491" width="100" height="48"/><text x="5433" y="505">response to<tspan x="5433" dy="15">organonitrogen</tspan><tspan x="5433" dy="15">compound</tspan></text></g>
<g id="crnitro" class="node"><rect class="w" x="5507" y="491" width="112" height="48"/><text x="5563" y="505">cellular response<tspan x="5563" dy="15">to nitrogen</tspan><tspan x="5563" dy="15">compound</tspan></text></g>
<g id="crorg" class="node"><rect class="w" x="5643" y="491" width="135" height="48"/><text x="5710.5" y="512.5">cellular response<tspan x="5710.5" dy="15">to organic substance</tspan></text></g>
<g id="cracid" class="node"><rect class="w" x="5801" y="491" width="112" height="48"/><text x="5857" y="512.5">cellular response<tspan x="5857" dy="15">to acid chemical</tspan></text></g>
<g id="croxy" class="node"><rect class="w" x="5936" y="491" width="138" height="48"/><text x="6005" y="505">cellular response<tspan x="6005" dy="15">to oxygen-containing</tspan><tspan x="6005" dy="15">compound</tspan></text></g>
<g id="crsalt" class="node"><rect class="w" x="6097" y="491" width="112" height="48"/><text x="6153" y="512.5">cellular response<tspan x="6153" dy="15">to salt</tspan></text></g>
<g id="dendrite" class="node"><rect class="cb" x="801" y="605" width="72" height="48"/><text x="837" y="634">dendrite</text></g>
<g id="pbasket" class="node"><rect class="lb" x="934" y="605" width="78" height="48"/><text x="973" y="626.5">pericellular<tspan x="973" dy="15">basket</tspan></text></g>
<g id="cationcc" class="node"><rect class="w" x="1063" y="605" width="101" height="48"/><text x="1113.5" y="626.5">cation channel<tspan x="1113.5" dy="15">complex</tspan></text></g>
<g id="cnsdev" class="node"><rect class="w" x="1314" y="605" width="144" height="48"/><text x="1386" y="626.5">central nervous<tspan x="1386" dy="15">system development</tspan></text></g>
<g id="neurogen" class="node"><rect class="w" x="1584" y="605" width="92" height="48"/><text x="1630" y="634">neurogenesis</text></g>
<g id="cmid" class="node"><rect class="w" x="1803" y="605" width="132" height="48"/><text x="1869" y="619">cell morphogenesis<tspan x="1869" dy="15">involved in</tspan><tspan x="1869" dy="15">differentiation</tspan></text></g>
<g id="regnsd" class="node"><rect class="w" x="2062" y="605" width="109" height="48"/><text x="2116.5" y="619">regulation of<tspan x="2116.5" dy="15">nervous system</tspan><tspan x="2116.5" dy="15">development</tspan></text></g>
<g id="regcdev" class="node"><rect class="w" x="2197" y="605" width="118" height="48"/><text x="2256" y="626.5">regulation of<tspan x="2256" dy="15">cell development</tspan></text></g>
<g id="ensneu" class="node"><rect class="w" x="2340" y="605" width="99" height="48"/><text x="2389.5" y="626.5">ensheathment<tspan x="2389.5" dy="15">of neurons</tspan></text></g>
<g id="posregcd" class="node"><rect class="w" x="2516" y="605" width="142" height="48"/><text x="2587" y="626.5">positive regulation<tspan x="2587" dy="15">of cell differentiation</tspan></text></g>
<g id="cpm" class="node"><rect class="w" x="2784" y="605" width="163" height="48"/><text x="2865.5" y="634">cell part morphogenesis</text></g>
<g id="cpo" class="node"><rect class="w" x="2971" y="605" width="98" height="48"/><text x="3020" y="626.5">cell projection<tspan x="3020" dy="15">organization</tspan></text></g>
<g id="regcco" class="node"><rect class="w" x="3195" y="605" width="130" height="48"/><text x="3260" y="619">regulation of<tspan x="3260" dy="15">cellular component</tspan><tspan x="3260" dy="15">organization</tspan></text></g>
<g id="synorg" class="node"><rect class="w" x="3351" y="605" width="143" height="48"/><text x="3422.5" y="634">synapse organization</text></g>
<g id="cja" class="node"><rect class="w" x="3520" y="605" width="85" height="48"/><text x="3562.5" y="626.5">cell junction<tspan x="3562.5" dy="15">assembly</tspan></text></g>
<g id="posregccb" class="node"><rect class="w" x="3681" y="605" width="152" height="48"/><text x="3757" y="619">positive regulation<tspan x="3757" dy="15">of cellular</tspan><tspan x="3757" dy="15">component biogenesis</tspan></text></g>
<g id="hetero" class="node"><rect class="lb" x="3859" y="589" width="152" height="80"/><text x="3935" y="604">heterophilic<tspan x="3935" dy="15">cell-cell adhesion</tspan><tspan x="3935" dy="15">via plasma membrane</tspan><tspan x="3935" dy="15">cell adhesion</tspan><tspan x="3935" dy="15">molecules</tspan></text></g>
<g id="homo" class="node"><rect class="lb" x="4036" y="597" width="135" height="64"/><text x="4103.5" y="611.5">homophilic cell<tspan x="4103.5" dy="15">adhesion via</tspan><tspan x="4103.5" dy="15">plasma membrane</tspan><tspan x="4103.5" dy="15">adhesion molecules</tspan></text></g>
<g id="posregtmt" class="node"><rect class="w" x="4298" y="605" width="127" height="48"/><text x="4361.5" y="619">positive regulation<tspan x="4361.5" dy="15">of transmembrane</tspan><tspan x="4361.5" dy="15">transport</tspan></text></g>
<g id="regtmtpa" class="node"><rect class="w" x="4450" y="597" width="111" height="64"/><text x="4505.5" y="611.5">regulation of<tspan x="4505.5" dy="15">transmembrane</tspan><tspan x="4505.5" dy="15">transporter</tspan><tspan x="4505.5" dy="15">activity</tspan></text></g>
<g id="posregtpa" class="node"><rect class="w" x="4636" y="605" width="127" height="48"/><text x="4699.5" y="619">positive regulation<tspan x="4699.5" dy="15">of transporter</tspan><tspan x="4699.5" dy="15">activity</tspan></text></g>
<g id="regmiontmt" class="node"><rect class="w" x="4838" y="597" width="113" height="64"/><text x="4894.5" y="611.5">regulation of<tspan x="4894.5" dy="15">monoatomic ion</tspan><tspan x="4894.5" dy="15">transmembrane</tspan><tspan x="4894.5" dy="15">transport</tspan></text></g>
<g id="posregmiont" class="node"><rect class="w" x="4975" y="605" width="127" height="48"/><text x="5038.5" y="619">positive regulation<tspan x="5038.5" dy="15">of monoatomic</tspan><tspan x="5038.5" dy="15">ion transport</tspan></text></g>
<g id="mcattmt" class="node"><rect class="w" x="5128" y="605" width="131" height="48"/><text x="5193.5" y="619">monoatomic cation<tspan x="5193.5" dy="15">transmembrane</tspan><tspan x="5193.5" dy="15">transport</tspan></text></g>
<g id="metaliont" class="node"><rect class="w" x="5331" y="605" width="125" height="48"/><text x="5393.5" y="634">metal ion transport</text></g>
<g id="crorgn" class="node"><rect class="w" x="5651" y="605" width="117" height="48"/><text x="5709.5" y="619">cellular response<tspan x="5709.5" dy="15">to organonitrogen</tspan><tspan x="5709.5" dy="15">compound</tspan></text></g>
<g id="respaa" class="node"><rect class="w" x="6198" y="605" width="79" height="48"/><text x="6237.5" y="626.5">response to<tspan x="6237.5" dy="15">amino acid</tspan></text></g>
<g id="kcc" class="node"><rect class="w" x="1046" y="733" width="129" height="48"/><text x="1110.5" y="754.5">potassium channel<tspan x="1110.5" dy="15">complex</tspan></text></g>
<g id="braindev" class="node"><rect class="lb" x="1213" y="733" width="128" height="48"/><text x="1277" y="762">brain development</text></g>
<g id="genneu" class="node"><rect class="w" x="1708" y="733" width="93" height="48"/><text x="1754.5" y="754.5">generation of<tspan x="1754.5" dy="15">neurons</tspan></text></g>
<g id="regneurogen" class="node"><rect class="w" x="2000" y="733" width="93" height="48"/><text x="2046.5" y="754.5">regulation of<tspan x="2046.5" dy="15">neurogenesis</tspan></text></g>
<g id="posregcdev" class="node"><rect class="w" x="2117" y="733" width="137" height="48"/><text x="2185.5" y="754.5">positive regulation<tspan x="2185.5" dy="15">of cell development</tspan></text></g>
<g id="posregnsd" class="node"><rect class="w" x="2277" y="733" width="128" height="48"/><text x="2341" y="747">positive regulation<tspan x="2341" dy="15">of nervous system</tspan><tspan x="2341" dy="15">development</tspan></text></g>
<g id="axonens" class="node"><rect class="w" x="2429" y="733" width="136" height="48"/><text x="2497" y="762">axon ensheathment</text></g>
<g id="cprojmorph" class="node"><rect class="w" x="2589" y="733" width="107" height="48"/><text x="2642.5" y="754.5">cell projection<tspan x="2642.5" dy="15">morphogenesis</tspan></text></g>
<g id="pmbcpo" class="node"><rect class="w" x="2721" y="733" width="155" height="48"/><text x="2798.5" y="747">plasma membrane<tspan x="2798.5" dy="15">bounded cell</tspan><tspan x="2798.5" dy="15">projection organization</tspan></text></g>
<g id="regcpo" class="node"><rect class="w" x="2952" y="733" width="99" height="48"/><text x="3001.5" y="747">regulation of<tspan x="3001.5" dy="15">cell projection</tspan><tspan x="3001.5" dy="15">organization</tspan></text></g>
<g id="posregcco" class="node"><rect class="w" x="3076" y="733" width="162" height="48"/><text x="3157" y="747">positive regulation<tspan x="3157" dy="15">of cellular</tspan><tspan x="3157" dy="15">component organization</tspan></text></g>
<g id="synasm" class="node"><rect class="w" x="3264" y="733" width="126" height="48"/><text x="3327" y="762">synapse assembly</text></g>
<g id="regsynorg" class="node"><rect class="w" x="3414" y="733" width="145" height="48"/><text x="3486.5" y="754.5">regulation of<tspan x="3486.5" dy="15">synapse organization</tspan></text></g>
<g id="regcja" class="node"><rect class="w" x="3584" y="733" width="88" height="48"/><text x="3628" y="747">regulation of<tspan x="3628" dy="15">cell junction</tspan><tspan x="3628" dy="15">assembly</tspan></text></g>
<g id="regmiontmtpa" class="node"><rect class="w" x="4457" y="717" width="112" height="80"/><text x="4513" y="732">regulation of<tspan x="4513" dy="15">monoatomic ion</tspan><tspan x="4513" dy="15">transmembrane</tspan><tspan x="4513" dy="15">transporter</tspan><tspan x="4513" dy="15">activity</tspan></text></g>
<g id="posregmiontmt" class="node"><rect class="w" x="4670" y="725" width="134" height="64"/><text x="4737" y="739.5">positive regulation<tspan x="4737" dy="15">of monoatomic</tspan><tspan x="4737" dy="15">ion transmembrane</tspan><tspan x="4737" dy="15">transport</tspan></text></g>
<g id="regmcattmt" class="node"><rect class="w" x="4829" y="725" width="131" height="64"/><text x="4894.5" y="739.5">regulation of<tspan x="4894.5" dy="15">monoatomic cation</tspan><tspan x="4894.5" dy="15">transmembrane</tspan><tspan x="4894.5" dy="15">transport</tspan></text></g>
<g id="inorgcattmt" class="node"><rect class="w" x="5037" y="733" width="109" height="48"/><text x="5091.5" y="747">inorganic cation<tspan x="5091.5" dy="15">transmembrane</tspan><tspan x="5091.5" dy="15">transport</tspan></text></g>
<g id="regmetal" class="node"><rect class="w" x="5272" y="733" width="125" height="48"/><text x="5334.5" y="754.5">regulation of<tspan x="5334.5" dy="15">metal ion transport</tspan></text></g>
<g id="kiontrans" class="node"><rect class="w" x="5420" y="733" width="94" height="48"/><text x="5467" y="754.5">potassium ion<tspan x="5467" dy="15">transport</tspan></text></g>
<g id="craa" class="node"><rect class="w" x="5949" y="733" width="112" height="48"/><text x="6005" y="747">cellular response<tspan x="6005" dy="15">to amino acid</tspan><tspan x="6005" dy="15">stimulus</tspan></text></g>
<g id="resplglu" class="node"><rect class="w" x="6196" y="733" width="82" height="48"/><text x="6237" y="754.5">response to<tspan x="6237" dy="15">L-glutamate</tspan></text></g>
<g id="vgkcc" class="node"><rect class="cb" x="846" y="852" width="129" height="48"/><text x="910.5" y="866">voltage-gated<tspan x="910.5" dy="15">potassium channel</tspan><tspan x="910.5" dy="15">complex</tspan></text></g>
<g id="neudiff" class="node"><rect class="w" x="1747" y="852" width="146" height="48"/><text x="1820" y="881">neuron differentiation</text></g>
<g id="posregneurogen" class="node"><rect class="w" x="1983" y="852" width="128" height="48"/><text x="2047" y="873.5">positive regulation<tspan x="2047" dy="15">of neurogenesis</tspan></text></g>
<g id="myelin" class="node"><rect class="lb" x="2456" y="852" width="83" height="48"/><text x="2497.5" y="881">myelination</text></g>
<g id="regpmbcpo" class="node"><rect class="w" x="2721" y="844" width="155" height="64"/><text x="2798.5" y="858.5">regulation of<tspan x="2798.5" dy="15">plasma membrane</tspan><tspan x="2798.5" dy="15">bounded cell</tspan><tspan x="2798.5" dy="15">projection organization</tspan></text></g>
<g id="posregcpo" class="node"><rect class="w" x="2910" y="852" width="127" height="48"/><text x="2973.5" y="866">positive regulation<tspan x="2973.5" dy="15">of cell projection</tspan><tspan x="2973.5" dy="15">organization</tspan></text></g>
<g id="regsynasm" class="node"><rect class="w" x="3389" y="852" width="126" height="48"/><text x="3452" y="873.5">regulation of<tspan x="3452" dy="15">synapse assembly</tspan></text></g>
<g id="posregcja" class="node"><rect class="w" x="3564" y="852" width="128" height="48"/><text x="3628" y="866">positive regulation<tspan x="3628" dy="15">of cell junction</tspan><tspan x="3628" dy="15">assembly</tspan></text></g>
<g id="posregiontmtpa" class="node"><rect class="w" x="4521" y="844" width="150" height="64"/><text x="4596" y="858.5">positive regulation<tspan x="4596" dy="15">of ion transmembrane</tspan><tspan x="4596" dy="15">transporter</tspan><tspan x="4596" dy="15">activity</tspan></text></g>
<g id="regcatchan" class="node"><rect class="w" x="4696" y="852" width="101" height="48"/><text x="4746.5" y="866">regulation of<tspan x="4746.5" dy="15">cation channel</tspan><tspan x="4746.5" dy="15">activity</tspan></text></g>
<g id="posregcattmt" class="node"><rect class="w" x="4822" y="852" width="170" height="48"/><text x="4907" y="866">positive regulation<tspan x="4907" dy="15">of cation transmembrane</tspan><tspan x="4907" dy="15">transport</tspan></text></g>
<g id="kiontmt" class="node"><rect class="w" x="5068" y="852" width="110" height="48"/><text x="5123" y="866">potassium ion<tspan x="5123" dy="15">transmembrane</tspan><tspan x="5123" dy="15">transport</tspan></text></g>
<g id="regkiont" class="node"><rect class="w" x="5265" y="852" width="94" height="48"/><text x="5312" y="866">regulation of<tspan x="5312" dy="15">potassium ion</tspan><tspan x="5312" dy="15">transport</tspan></text></g>
<g id="crlglu" class="node"><rect class="lb" x="6097" y="852" width="112" height="48"/><text x="6153" y="873.5">cellular response<tspan x="6153" dy="15">to L-glutamate</tspan></text></g>
<g id="neudev" class="node"><rect class="w" x="1749" y="965" width="141" height="48"/><text x="1819.5" y="994">neuron development</text></g>
<g id="posregsynasm" class="node"><rect class="cb" x="3323" y="965" width="143" height="48"/><text x="3394.5" y="986.5">positive regulation<tspan x="3394.5" dy="15">of synapse assembly</tspan></text></g>
<g id="cellrecog" class="node"><rect class="w" x="3789" y="965" width="107" height="48"/><text x="3842.5" y="994">cell recognition</text></g>
<g id="posregcatchan" class="node"><rect class="w" x="4683" y="965" width="127" height="48"/><text x="4746.5" y="979">positive regulation<tspan x="4746.5" dy="15">of cation channel</tspan><tspan x="4746.5" dy="15">activity</tspan></text></g>
<g id="regkiontmt" class="node"><rect class="w" x="4974" y="957" width="111" height="64"/><text x="5029.5" y="971.5">regulation of<tspan x="5029.5" dy="15">potassium ion</tspan><tspan x="5029.5" dy="15">transmembrane</tspan><tspan x="5029.5" dy="15">transport</tspan></text></g>
<g id="posregkiont" class="node"><rect class="w" x="5205" y="965" width="125" height="48"/><text x="5267.5" y="979">positive regulation<tspan x="5267.5" dy="15">of potassium</tspan><tspan x="5267.5" dy="15">ion transport</tspan></text></g>
<g id="cmind" class="node"><rect class="w" x="1745" y="1085" width="148" height="48"/><text x="1819" y="1099">cell morphogenesis<tspan x="1819" dy="15">involved in</tspan><tspan x="1819" dy="15">neuron differentiation</tspan></text></g>
<g id="pmbcpm" class="node"><rect class="w" x="2232" y="1085" width="174" height="48"/><text x="2319" y="1099">plasma membrane<tspan x="2319" dy="15">bounded cell</tspan><tspan x="2319" dy="15">projection morphogenesis</tspan></text></g>
<g id="npd" class="node"><rect class="w" x="2470" y="1085" width="120" height="48"/><text x="2530" y="1106.5">neuron projection<tspan x="2530" dy="15">development</tspan></text></g>
<g id="neurecog" class="node"><rect class="w" x="2615" y="1085" width="128" height="48"/><text x="2679" y="1114">neuron recognition</text></g>
<g id="regkiontmtpa" class="node"><rect class="w" x="4586" y="1069" width="110" height="80"/><text x="4641" y="1084">regulation of<tspan x="4641" dy="15">potassium ion</tspan><tspan x="4641" dy="15">transmembrane</tspan><tspan x="4641" dy="15">transporter</tspan><tspan x="4641" dy="15">activity</tspan></text></g>
<g id="posregkiontmt" class="node"><rect class="cb" x="4963" y="1077" width="134" height="64"/><text x="5030" y="1091.5">positive regulation<tspan x="5030" dy="15">of potassium</tspan><tspan x="5030" dy="15">ion transmembrane</tspan><tspan x="5030" dy="15">transport</tspan></text></g>
<g id="npm" class="node"><rect class="w" x="2221" y="1213" width="120" height="48"/><text x="2281" y="1234.5">neuron projection<tspan x="2281" dy="15">morphogenesis</tspan></text></g>
<g id="axondev" class="node"><rect class="w" x="2365" y="1213" width="129" height="48"/><text x="2429.5" y="1242">axon development</text></g>
<g id="npf" class="node"><rect class="lb" x="2517" y="1213" width="120" height="48"/><text x="2577" y="1234.5">neuron projection<tspan x="2577" dy="15">fasciculation</tspan></text></g>
<g id="regnpd" class="node"><rect class="w" x="2712" y="1213" width="120" height="48"/><text x="2772" y="1227">regulation of<tspan x="2772" dy="15">neuron projection</tspan><tspan x="2772" dy="15">development</tspan></text></g>
<g id="posregkiontmtpa" class="node"><rect class="w" x="4575" y="1197" width="134" height="80"/><text x="4642" y="1212">positive regulation<tspan x="4642" dy="15">of potassium</tspan><tspan x="4642" dy="15">ion transmembrane</tspan><tspan x="4642" dy="15">transporter</tspan><tspan x="4642" dy="15">activity</tspan></text></g>
<g id="axonogen" class="node"><rect class="lb" x="2233" y="1333" width="96" height="48"/><text x="2281" y="1362">axonogenesis</text></g>
<g id="axonfasc" class="node"><rect class="lb" x="2509" y="1333" width="137" height="48"/><text x="2577.5" y="1362">axonal fasciculation</text></g>
<g id="posregnpd" class="node"><rect class="lb" x="2798" y="1333" width="137" height="48"/><text x="2866.5" y="1347">positive regulation<tspan x="2866.5" dy="15">of neuron projection</tspan><tspan x="2866.5" dy="15">development</tspan></text></g>
<g id="posregvgkca" class="node"><rect class="lb" x="4629" y="1325" width="129" height="64"/><text x="4693.5" y="1339.5">positive regulation<tspan x="4693.5" dy="15">of voltage-gated</tspan><tspan x="4693.5" dy="15">potassium channel</tspan><tspan x="4693.5" dy="15">activity</tspan></text></g>
<g id="regaxonogen" class="node"><rect class="w" x="2275" y="1437" width="96" height="48"/><text x="2323" y="1458.5">regulation of<tspan x="2323" dy="15">axonogenesis</tspan></text></g>
<g id="posregaxonogen" class="node"><rect class="lb" x="2217" y="1533" width="129" height="48"/><text x="2281.5" y="1554.5">positive regulation<tspan x="2281.5" dy="15">of axonogenesis</tspan></text></g>
</svg>
